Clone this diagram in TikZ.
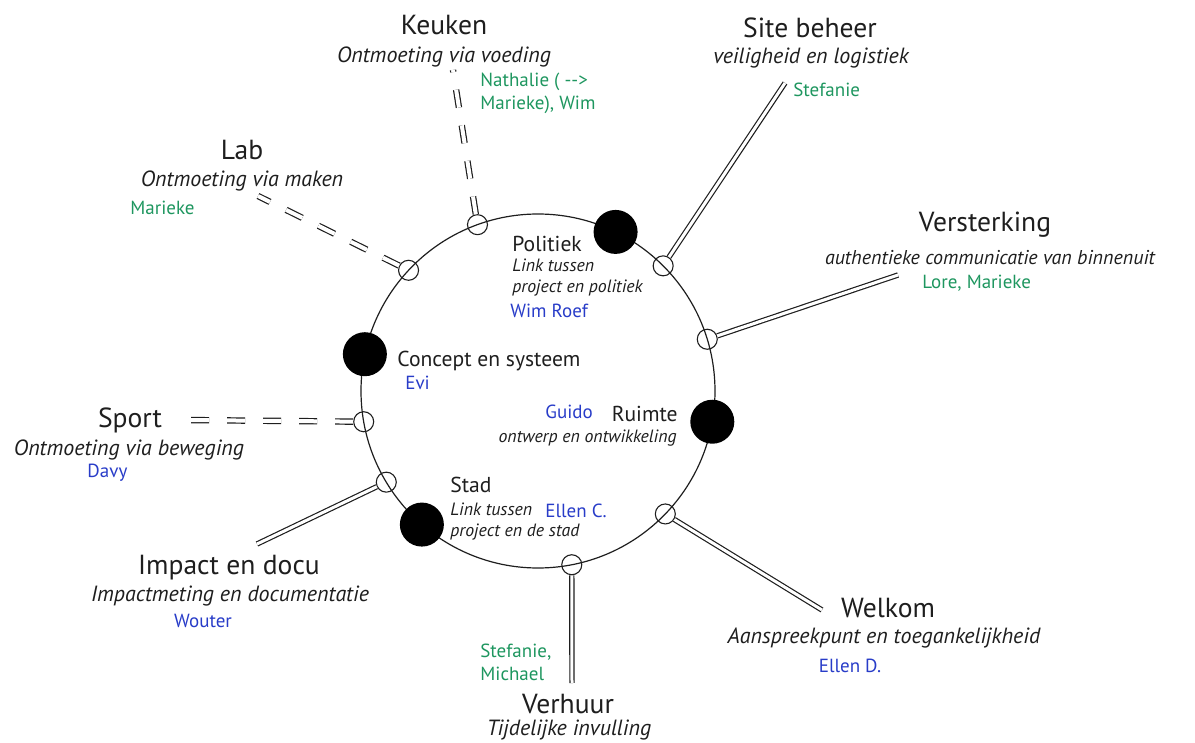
\documentclass[tikz,border=0pt]{standalone}
\usepackage{fontspec}
\setmainfont{PT Sans}
\definecolor{ink}{RGB}{30, 30, 30}
\definecolor{namegreen}{RGB}{30, 150, 95}
\definecolor{nameblue}{RGB}{40, 60, 200}
\tikzset{
    hub/.style={circle, draw=ink, line width=0.6pt, minimum size=177pt,
        inner sep=0pt, outer sep=0pt},
    bigdot/.style={circle, fill=black, minimum size=22pt, inner sep=0pt},
    joint/.style={circle, draw=ink, line width=0.55pt, minimum size=10pt,
        inner sep=0pt},
    link/.style={draw=ink, line width=0.6pt, double=white,
        double distance=1.5pt},
    dashlink/.style={link, double distance=2pt, dash pattern=on 9pt off 9pt},
    head/.style={inner sep=0pt, text=ink, font=\fontsize{13.8}{16}\selectfont},
    subhead/.style={inner sep=0pt, text=ink,
        font=\fontsize{11}{13}\selectfont\itshape},
    innerhead/.style={inner sep=0pt, text=ink,
        font=\fontsize{10.8}{12}\selectfont},
    innersub/.style={inner sep=0pt, text=ink, align=left,
        font=\fontsize{8.9}{10.5}\selectfont\itshape},
    greenname/.style={inner sep=0pt, text=namegreen, align=left,
        font=\fontsize{9.5}{11.5}\selectfont},
    bluename/.style={inner sep=0pt, text=nameblue,
        font=\fontsize{9.5}{11.5}\selectfont}
}

\begin{document}
\begin{tikzpicture}[x=0.5pt, y=-0.5pt]

    \useasboundingbox (0, 0) rectangle (1195, 743);

    % the ring
    \node[hub] (hub) at (538, 391) {};

    % free ends of the spokes
    \coordinate (ekeuken) at (453, 70);
    \coordinate (elab) at (258, 196);
    \coordinate (esport) at (184, 420);
    \coordinate (esite) at (785, 83);
    \coordinate (eversterking) at (898, 275);
    \coordinate (ewelkom) at (822, 610);
    \coordinate (everhuur) at (572, 683);
    \coordinate (eimpact) at (257, 544);

    \foreach \name/\ang in {keuken/110, lab/137.3, sport/190, impact/211.6,
        verhuur/281, welkom/316, versterking/17.5, site/45.5} {%
        \node[joint] (j\name) at (hub.\ang) {};
    };

    \foreach \name in {site, versterking, welkom, verhuur, impact} {%
        \draw[link] (j\name) -- (e\name);
    };
    \foreach \name in {keuken, lab, sport} {%
        \draw[dashlink] (j\name) -- (e\name);
    };

    \foreach \name/\ang in {politiek/64.8, concept/168.8, ruimte/-10,
        stad/229.5} {%
        \node[bigdot] (d\name) at (hub.\ang) {};
    };

    % inner labels (base of a two-line node is its last line)
    \node[innerhead, anchor=base west] (politiek) at (512, 252) {Politiek};
    \node[innersub, anchor=base west] (politieksub) at (512, 293)
        {Link tussen\\project en politiek};
    \node[bluename, anchor=base west] (politiekwho) at (510, 318) {Wim Roef};

    \node[innerhead, anchor=base west] (concept) at (397, 367)
        {Concept en systeem};
    \node[bluename, anchor=base west] (conceptwho) at (405, 390) {Evi};

    \node[innerhead, anchor=base east] (ruimte) at (678, 422) {Ruimte};
    \node[innersub, anchor=base east] (ruimtesub) at (677, 443)
        {ontwerp en ontwikkeling};
    \node[bluename, anchor=base west] (ruimtewho) at (545, 418) {Guido};

    \node[innerhead, anchor=base west] (stad) at (450, 493) {Stad};
    \node[innersub, anchor=base west] (stadsub) at (450, 536)
        {Link tussen\\project en de stad};
    \node[bluename, anchor=base west] (stadwho) at (545, 517) {Ellen C.};

    % outer labels
    \node[head, anchor=base] (keuken) at (444, 35) {Keuken};
    \node[subhead, anchor=base] (keukensub) at (444, 63)
        {Ontmoeting via voeding};
    \node[greenname, anchor=base west] (keukenwho) at (480, 110)
        {Nathalie ( -\kern0pt-\kern0pt>\\Marieke), Wim};

    \node[head, anchor=base] (lab) at (242, 160) {Lab};
    \node[subhead, anchor=base] (labsub) at (242, 187)
        {Ontmoeting via maken};
    \node[greenname, anchor=base west] (labwho) at (130, 215) {Marieke};

    \node[head, anchor=base] (site) at (810, 38) {Site beheer};
    \node[subhead, anchor=base] (sitesub) at (811, 64)
        {veiligheid en logistiek};
    \node[greenname, anchor=base west] (sitewho) at (793, 97) {Stefanie};

    \node[head, anchor=base] (versterking) at (985, 232) {Versterking};
    \node[subhead, anchor=base, font=\fontsize{10}{12}\selectfont\itshape]
        (versterkingsub) at (990, 265)
        {authentieke communicatie van binnenuit};
    \node[greenname, anchor=base west] (versterkingwho) at (922, 289)
        {Lore, Marieke};

    \node[head, anchor=base] (sport) at (130, 428) {Sport};
    \node[subhead, anchor=base] (sportsub) at (129, 455)
        {Ontmoeting via beweging};
    \node[bluename, anchor=base west] (sportwho) at (87, 478) {Davy};

    \node[head, anchor=base] (impact) at (229, 574) {Impact en docu};
    \node[subhead, anchor=base] (impactsub) at (230, 601)
        {Impactmeting en documentatie};
    \node[bluename, anchor=base] (impactwho) at (203, 627) {Wouter};

    \node[greenname, anchor=base west] (verhuurwho) at (480, 680)
        {Stefanie,\\Michael};
    \node[head, anchor=base] (verhuur) at (568, 713) {Verhuur};
    \node[subhead, anchor=base] (verhuursub) at (569, 735)
        {Tijdelijke invulling};

    \node[head, anchor=base] (welkom) at (888, 617) {Welkom};
    \node[subhead, anchor=base] (welkomsub) at (884, 643)
        {Aanspreekpunt en toegankelijkheid};
    \node[bluename, anchor=base] (welkomwho) at (850, 672) {Ellen D.};

\end{tikzpicture}
\end{document}
